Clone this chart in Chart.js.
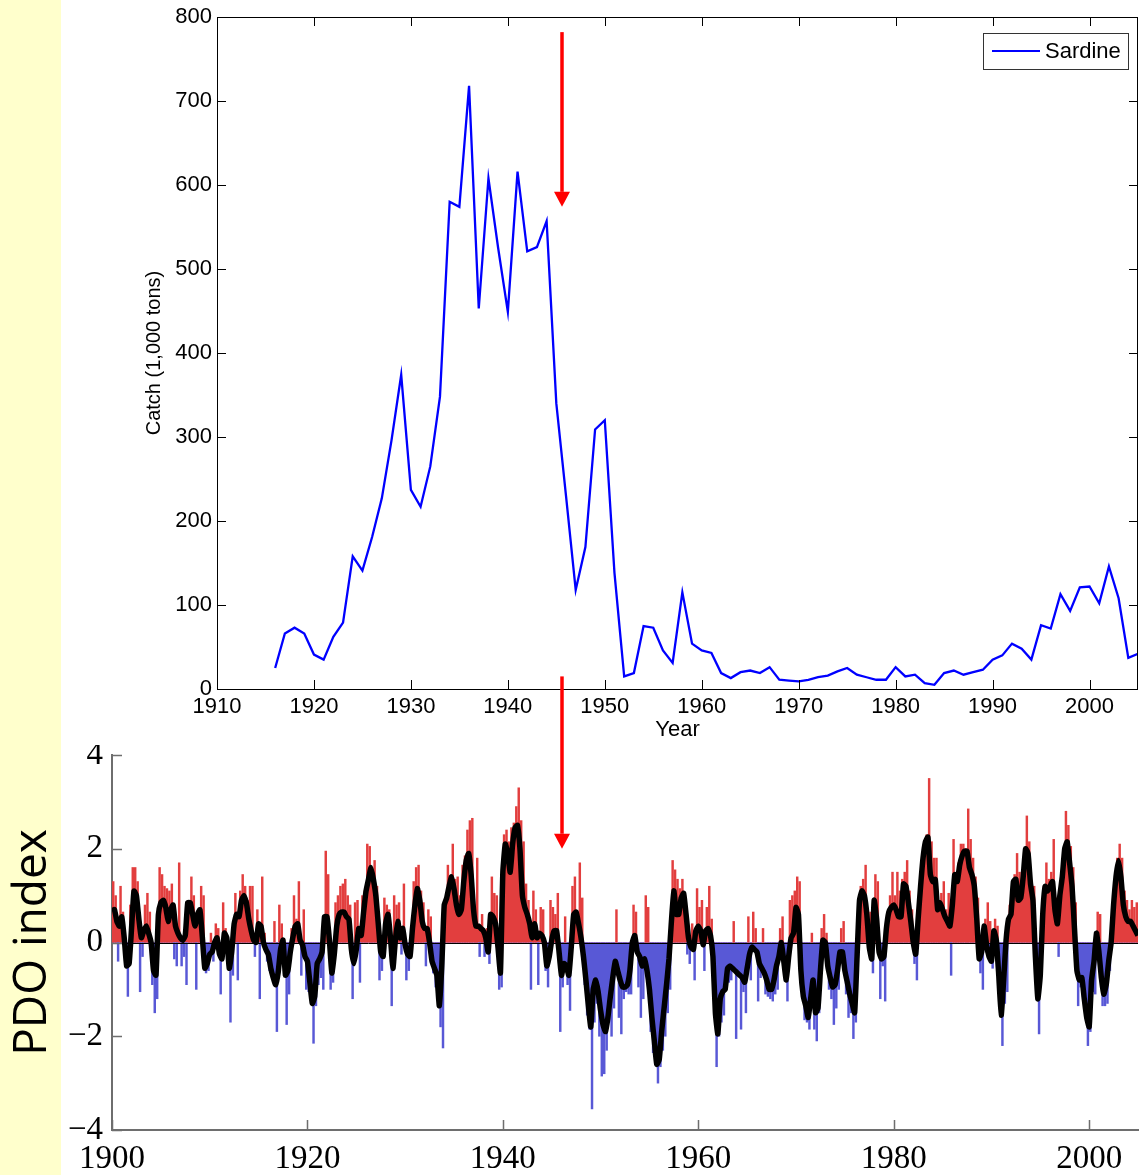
<!DOCTYPE html>
<html>
<head>
<meta charset="utf-8">
<script src="https://cdn.jsdelivr.net/npm/chart.js@4.4.1/dist/chart.umd.min.js"></script>
<style>
  html, body { margin: 0; padding: 0; }
  body {
    width: 1140px; height: 1175px; position: relative; overflow: hidden;
    background: linear-gradient(to right, #ffffcc 0, #ffffcc 61px, #ffffff 61px);
  }
  canvas { position: absolute; left: 0; }
  #catchChart { top: 0; }
  #pdoChart { top: 745px; }
</style>
</head>
<body>
<canvas id="catchChart" width="1140" height="745"></canvas>
<canvas id="pdoChart" width="1140" height="430"></canvas>
<script>
// Sardine catch (1,000 tons), one value per year
const sardineYears = [
  1916, 1917, 1918, 1919, 1920, 1921, 1922, 1923, 1924, 1925,
  1926, 1927, 1928, 1929, 1930, 1931, 1932, 1933, 1934, 1935,
  1936, 1937, 1938, 1939, 1940, 1941, 1942, 1943, 1944, 1945,
  1946, 1947, 1948, 1949, 1950, 1951, 1952, 1953, 1954, 1955,
  1956, 1957, 1958, 1959, 1960, 1961, 1962, 1963, 1964, 1965,
  1966, 1967, 1968, 1969, 1970, 1971, 1972, 1973, 1974, 1975,
  1976, 1977, 1978, 1979, 1980, 1981, 1982, 1983, 1984, 1985,
  1986, 1987, 1988, 1989, 1990, 1991, 1992, 1993, 1994, 1995,
  1996, 1997, 1998, 1999, 2000, 2001, 2002, 2003, 2004, 2005
];
const sardineCatch = [
   25,  66,  73,  66,  41,  35,  62,  79, 158, 141,
  181, 227, 296, 374, 237, 217, 265, 348, 580, 574,
  718, 453, 608, 525, 449, 616, 521, 526, 557, 340,
  230, 118, 169, 309, 320, 138,  15,  19,  75,  73,
   46,  31, 115,  54,  46,  43,  19,  13,  20,  22,
   19,  26,  11,  10,   9,  11,  14,  16,  21,  25,
   17,  14,  11,  11,  26,  15,  17,   7,   5,  19,
   22,  17,  20,  23,  35,  40,  54,  48,  35,  76,
   72, 113,  93, 121, 122, 102, 146, 108,  37,  42
];
const catchYearTicks = [1910, 1920, 1930, 1940, 1950, 1960, 1970, 1980, 1990, 2000];
const catchValueTicks = [0, 100, 200, 300, 400, 500, 600, 700, 800];

// PDO index, read every quarter year starting at 1900.0
const pdoStart = 1900;
const pdoStep = 0.25;
// smoothed index (black line)
const pdoSmooth = [
  0.67, 0.70, 0.45, 0.35,   0.55, 0.10, -0.50, -0.45,   0.30, 1.10, 1.00, 0.50,
  0.10, 0.25, 0.35, 0.20,   0.00, -0.60, -0.70, 0.60,   0.85, 0.90, 0.75, 0.45,
  0.70, 0.80, 0.35, 0.20,   0.10, 0.05, 0.15, 0.85,   0.85, 0.60, 0.35, 0.60,
  0.70, 0.10, -0.55, -0.45, // 1909
  -0.25, -0.20, 0.00, 0.10,   -0.25, -0.35, 0.20, 0.10,   -0.55, -0.20, 0.40, 0.60,
  0.55, 0.90, 1.00, 0.85,   0.50, 0.25, 0.05, 0.00,   0.40, 0.35, 0.00, -0.15,
  -0.25, -0.55, -0.75, -0.90,   -0.65, -0.15, 0.05, -0.70,   -0.60, -0.20, 0.10, 0.35,
  0.40, 0.05, -0.05, -0.30, // 1919
  -0.40, -0.85, -1.30, -1.15,   -0.45, -0.35, -0.20, 0.55,   0.55, 0.05, -0.65, -0.25,
  0.35, 0.60, 0.65, 0.65,   0.55, 0.50, -0.15, -0.45,   -0.15, 0.30, 0.15, 0.65,
  1.10, 1.35, 1.60, 1.35,   1.00, 0.40, -0.20, -0.30,   0.40, 0.60, 0.10, -0.55,
  0.05, 0.45, 0.10, 0.30, // 1929
  -0.05, -0.25, -0.30, 0.30,   0.80, 1.15, 0.90, 0.45,   0.30, 0.30, 0.00, -0.40,
  -0.55, -0.70, -1.35, -0.50,   0.80, 0.95, 1.20, 1.40,   1.15, 0.80, 0.60, 0.70,
  1.30, 1.75, 1.90, 1.45,   0.70, 0.35, 0.35, 0.30,   0.25, 0.10, -0.20, 0.60,
  0.55, 0.40, -0.10, -0.65, // 1939
  1.50, 2.10, 1.90, 1.50,   2.10, 2.45, 2.50, 2.00,   1.00, 0.75, 0.60, 0.40,
  0.10, 0.40, 0.10, 0.20,   0.15, 0.00, -0.50, -0.30,   0.05, 0.25, 0.25, -0.20,
  -0.70, -0.45, -0.50, -0.70,   -0.10, 0.60, 0.65, 0.40,   0.10, -0.30, -0.80, -1.35,
  -1.80, -1.00, -0.80, -1.05, // 1949
  -1.45, -1.75, -1.90, -1.60,   -1.15, -0.75, -0.40, -0.60,   -0.80, -0.95, -0.95, -0.90,
  -0.60, 0.00, 0.15, -0.20,   -0.30, -0.50, -0.35, -0.60,   -1.00, -1.60, -2.10, -2.60,
  -2.50, -1.90, -1.40, -0.90,   -0.35, 0.45, 1.10, 0.60,   0.60, 0.95, 1.05, 0.60,
  0.10, -0.10, -0.15, 0.25, // 1959
  0.35, 0.25, -0.05, 0.25,   0.30, 0.15, -0.30, -1.50,   -1.95, -1.20, -1.05, -1.00,
  -0.55, -0.50, -0.55, -0.60,   -0.65, -0.70, -0.75, -0.85,   -0.55, -0.25, -0.10, -0.15,
  -0.20, -0.45, -0.55, -0.65,   -0.80, -1.00, -1.00, -0.80,   -0.50, -0.30, 0.00, -0.40,
  -0.80, -0.30, 0.10, 0.20, // 1969
  0.75, 0.60, -0.60, -1.15,   -1.35, -1.60, -1.20, -0.80,   -1.50, -1.40, -0.60, 0.05,
  0.00, -0.50, -0.75, -0.95,   -0.90, -0.60, -0.20, -0.20,   -0.60, -0.85, -1.10, -1.30,
  -1.50, -0.30, 0.90, 1.10,   1.00, 0.60, -0.10, -0.35,   0.90, 0.50, -0.20, -0.35,
  -0.30, 0.30, 0.65, 0.75, // 1979
  0.80, 0.70, 0.55, 0.55,   1.25, 1.20, 0.85, 0.45,   0.00, -0.25, 0.50, 1.20,
  1.80, 2.15, 2.25, 1.45,   1.30, 1.35, 0.70, 0.85,   0.70, 0.55, 0.45, 0.35,
  0.80, 1.45, 1.30, 1.65,   1.85, 1.95, 1.95, 1.60,   1.45, 1.20, 0.50, -0.35,
  -0.20, 0.35, -0.05, -0.30, // 1989
  -0.40, 0.25, 0.05, -0.70,   -1.55, -0.80, 0.05, 0.50,   0.60, 1.30, 1.35, 0.90,
  0.95, 1.40, 2.00, 1.90,   1.25, 0.90, -0.30, -1.20,   -0.70, 0.60, 1.20, 1.10,
  1.20, 1.30, 0.70, 0.40,   1.00, 1.40, 2.00, 2.15,   1.70, 1.20, 0.30, -0.60,
  -0.80, -0.75, -1.20, -1.60, // 1999
  -1.80, -0.80, -0.40, 0.20,   -0.20, -0.75, -1.10, -0.90,   -0.40, 0.00, 0.80, 1.40,
  1.75, 1.40, 0.80, 0.55,   0.45, 0.45, 0.35, 0.25,
  0.15 // 2005.0
];
// strongest monthly value in each quarter (thin red / blue spikes)
const pdoMonthlyPeaks = [
  1.30, 1.00, -0.40, 1.20,   0.65, -0.50, -1.15, 0.80,   1.60, 1.60, 1.30, -1.05,
  -0.30, 0.80, 1.05, 0.65,   -0.90, -1.50, -1.20, 1.60,   1.45, 1.20, 1.15, 1.10,
  1.25, -0.35, -0.50, 1.70,   -0.50, -0.30, -0.90, 0.70,   1.40, 1.00, -1.00, 0.50,
  1.20, 1.00, -0.65, -0.60, // 1909
  0.20, -0.40, 0.40, 0.30,   -1.10, 0.85, 0.30, -0.50,   -1.70, -0.70, 1.05, -0.80,
  1.10, 1.45, 1.20, 0.90,   1.20, 1.20, -0.30, 0.70,   -1.20, 1.40, 0.20, -0.40,
  -0.60, -0.65, 0.45, -1.90,   0.80, 0.40, -0.65, -1.75,   -1.10, 0.30, 1.00, 0.50,
  1.30, -0.70, 0.70, -1.00, // 1919
  -1.05, -1.00, -2.15, -1.35,   -0.90, -0.75, -1.00, 1.95,   1.45, -1.00, -0.85, 0.85,
  1.00, 1.20, 1.25, 1.35,   1.00, 0.80, -1.20, 0.85,   0.90, -0.85, 1.00, 1.10,
  2.10, 2.05, 1.30, 1.75,   1.20, -0.80, -0.60, 0.95,   0.80, 0.70, -1.35, 1.00,
  0.80, 0.85, -0.25, 1.25, // 1929
  -0.80, -0.60, 0.35, 1.30,   1.60, 1.65, 1.10, 0.85,   -0.50, 0.70, 0.55, -0.65,
  -0.95, -1.00, -1.80, -2.25,   0.85, 1.65, 1.40, 2.10,   1.35, 1.40, 1.00, 1.65,
  1.85, 2.40, 2.60, 2.65,   0.75, 1.80, -0.30, 0.60,   -0.30, 0.30, -0.45, 1.40,
  1.05, 1.00, -1.00, -0.95, // 1939
  2.30, 2.40, 2.15, 2.45,   2.55, 2.90, 3.30, 2.60,   2.15, 1.25, 0.90, -1.00,
  1.10, 0.70, -0.90, 0.75,   0.70, -0.60, -0.95, 0.90,   0.75, 0.60, 1.05, -1.90,
  -0.95, 0.55, -0.90, -1.45,   1.20, 1.40, 0.60, 1.70,   0.95, -0.90, -1.55, -1.85,
  -3.55, -1.70, -1.30, -2.00, // 1949
  -2.85, -2.80, -2.30, -1.70,   -2.00, -1.40, 0.70, -1.60,   -1.95, -1.20, -1.05, -1.10,
  -1.10, 0.80, 0.65, -0.95,   -1.60, -1.20, 1.00, 0.75,   -1.90, -2.35, -2.20, -3.00,
  -2.65, -2.30, -2.00, -1.50,   -1.00, 1.75, 1.55, 1.35,   1.15, 1.35, 1.00, -0.25,
  -0.45, 0.40, -0.80, 1.15, // 1959
  0.75, 0.90, -0.60, 0.75,   1.20, 0.50, -1.20, -2.65,   -2.00, -1.70, -1.55, -1.00,
  -0.85, -0.80, 0.45, -2.05,   -0.40, -1.85, -1.05, -1.50,   0.55, -0.80, 0.65, 0.30,
  -1.25, -0.75, 0.30, -1.10,   -1.15, -1.20, -1.25, -1.10,   -1.00, 0.30, 0.55, -0.65,
  -1.25, 0.90, 1.00, 1.10, // 1969
  1.40, 1.30, -0.90, -1.65,   -1.70, -1.85, 0.20, -1.85,   -2.10, -1.50, 0.30, 0.60,
  0.20, -1.00, -1.20, -1.75,   -1.40, -1.00, 0.30, 0.45,   -1.10, -1.60, -1.50, -2.05,
  -1.70, 0.45, 1.20, 1.35,   1.65, 0.50, 0.65, -0.65,   1.45, 1.30, -1.20, -0.50,
  -1.25, 0.60, 1.00, 1.50, // 1979
  1.00, 1.50, 1.10, 1.35,   1.50, 1.75, 1.10, 0.70,   -0.45, -0.80, 0.80, 1.05,
  1.90, 2.30, 3.50, 2.15,   1.80, 1.80, 0.45, 1.05,   1.30, 0.70, 1.05, -0.70,
  2.20, 1.30, 1.70, 2.10,   2.10, 2.00, 2.85, 2.20,   1.80, 1.40, 0.95, -0.65,
  -1.00, 0.50, 0.85, 0.45, // 1989
  -0.55, 0.50, 0.35, -1.00,   -2.20, -1.30, -1.05, 0.80,   0.90, 1.45, 1.90, 1.50,
  1.10, 1.05, 2.70, 2.15,   1.30, 1.20, -0.60, -1.95,   -0.40, 1.20, 1.70, 1.35,
  1.50, 2.20, 0.95, -0.30,   1.30, 1.80, 2.80, 2.50,   2.05, 1.60, 0.85, -1.35,
  -0.95, -1.15, -1.30, -2.20, // 1999
  -1.90, -1.05, -1.10, 0.65,   0.60, -1.35, -1.35, -1.30,   -0.60, 0.45, 0.90, 1.80,
  2.10, 1.80, 1.10, 0.90,   0.70, 0.90, 0.75, 0.85
];
const pdoYearTicks = [1900, 1920, 1940, 1960, 1980, 2000];
const pdoValueTicks = [-4, -2, 0, 2, 4];

const RED = 'rgb(226,62,62)';
const BLUE = 'rgb(88,88,214)';
const SANS = '"Liberation Sans", Arial, sans-serif';
const SERIF = '"Liberation Serif", "Times New Roman", serif';

// fixed axis box sizes, without the extra room Chart.js keeps for edge labels
function fixWidth(w) {
  return s => { s.width = w; s.paddingTop = 0; s.paddingBottom = 0; };
}
function fixHeight(h) {
  return s => { s.height = h; s.paddingLeft = 0; s.paddingRight = 0; };
}

// ticks drawn inside the plot box, optional full frame and zero line
const inwardTicks = {
  id: 'inwardTicks',
  afterDatasetsDraw(chart, args, o) {
    const {ctx, chartArea: a, scales: {x, y}} = chart;
    ctx.save();
    if (o.zeroLine) {
      const pz = Math.round(y.getPixelForValue(0)) + 0.5;
      ctx.strokeStyle = '#000';
      ctx.lineWidth = 1;
      ctx.beginPath();
      ctx.moveTo(a.left, pz);
      ctx.lineTo(a.right, pz);
      ctx.stroke();
    }
    ctx.strokeStyle = o.color;
    ctx.lineWidth = o.width;
    ctx.beginPath();
    x.ticks.forEach(t => {
      const px = Math.round(x.getPixelForValue(t.value)) + 0.5;
      ctx.moveTo(px, a.bottom);
      ctx.lineTo(px, a.bottom - o.len);
      if (o.box) {
        ctx.moveTo(px, a.top);
        ctx.lineTo(px, a.top + o.len);
      }
    });
    y.ticks.forEach(t => {
      const py = Math.round(y.getPixelForValue(t.value)) + 0.5;
      ctx.moveTo(a.left, py);
      ctx.lineTo(a.left + o.len, py);
      if (o.box) {
        ctx.moveTo(a.right, py);
        ctx.lineTo(a.right - o.len, py);
      }
    });
    ctx.stroke();
    if (o.box) {
      ctx.strokeRect(a.left + 0.5, a.top + 0.5, a.right - a.left - 1, a.bottom - a.top);
    }
    ctx.restore();
  }
};

// red arrows marking the regime shift
const arrows = {
  id: 'arrows',
  afterDraw(chart, args, o) {
    const {ctx, scales: {x, y}} = chart;
    ctx.save();
    ctx.strokeStyle = o.color;
    ctx.fillStyle = o.color;
    ctx.lineWidth = o.width;
    (o.items || []).forEach(a => {
      const px = Math.round(x.getPixelForValue(a.year));
      const y0 = a.from == null ? 0 : y.getPixelForValue(a.from);
      const tip = a.to == null ? chart.height : y.getPixelForValue(a.to);
      const end = a.head ? tip - o.headLen : tip;
      ctx.beginPath();
      ctx.moveTo(px, y0);
      ctx.lineTo(px, end);
      ctx.stroke();
      if (a.head) {
        ctx.beginPath();
        ctx.moveTo(px - o.headWidth / 2, end);
        ctx.lineTo(px + o.headWidth / 2, end);
        ctx.lineTo(px, tip);
        ctx.closePath();
        ctx.fill();
      }
    });
    ctx.restore();
  }
};

// boxed legend in the top right corner of the plot
const boxLegend = {
  id: 'boxLegend',
  afterDraw(chart, args, o) {
    if (!o.display) return;
    const {ctx, chartArea: a} = chart;
    const ds = chart.data.datasets[0];
    const bx = a.right - o.right - o.width;
    const by = a.top + o.top;
    ctx.save();
    ctx.fillStyle = '#fff';
    ctx.fillRect(bx, by, o.width, o.height);
    ctx.strokeStyle = '#333';
    ctx.lineWidth = 1;
    ctx.strokeRect(bx + 0.5, by + 0.5, o.width, o.height);
    const my = by + o.height / 2;
    ctx.strokeStyle = ds.borderColor;
    ctx.lineWidth = 2;
    ctx.beginPath();
    ctx.moveTo(bx + 9, my);
    ctx.lineTo(bx + 57, my);
    ctx.stroke();
    ctx.fillStyle = '#000';
    ctx.font = '22px ' + SANS;
    ctx.textBaseline = 'middle';
    ctx.fillText(ds.label, bx + 62, my + 1);
    ctx.restore();
  }
};

Chart.register(inwardTicks, arrows, boxLegend);

new Chart(document.getElementById('catchChart'), {
  type: 'line',
  data: {
    datasets: [{
      label: 'Sardine',
      data: sardineYears.map((yr, i) => ({x: yr, y: sardineCatch[i]})),
      borderColor: '#0000ff',
      borderWidth: 2.3,
      pointRadius: 0,
      tension: 0,
      fill: false
    }]
  },
  options: {
    responsive: false,
    animation: false,
    layout: {padding: {top: 17, right: 2, left: 0, bottom: 0}},
    plugins: {
      legend: {display: false},
      tooltip: {enabled: false},
      inwardTicks: {color: '#000', width: 1, len: 9, box: true},
      arrows: {
        color: '#ff0000', width: 3.5, headLen: 15, headWidth: 16,
        items: [
          {year: 1945.6, from: 782, to: 574, head: true},
          {year: 1945.6, from: 15}
        ]
      },
      boxLegend: {display: true, right: 10, top: 16, width: 145, height: 36}
    },
    scales: {
      x: {
        type: 'linear', min: 1910, max: 2005, offset: false,
        grid: {display: false, drawTicks: false},
        border: {display: false},
        ticks: {
          font: {family: SANS, size: 22}, color: '#000', padding: 5, maxRotation: 0, autoSkip: false,
          callback: v => String(v)
        },
        title: {display: true, text: 'Year', font: {family: SANS, size: 22}, color: '#000', padding: {top: 0, bottom: 2}},
        afterBuildTicks: s => { s.ticks = catchYearTicks.map(v => ({value: v})); },
        afterFit: fixHeight(56)
      },
      y: {
        type: 'linear', min: 0, max: 800,
        grid: {display: false, drawTicks: false},
        border: {display: false},
        ticks: {font: {family: SANS, size: 22}, color: '#000', padding: 5, callback: v => String(v)},
        title: {display: true, text: 'Catch (1,000 tons)', font: {family: SANS, size: 20}, color: '#000', padding: {top: 142, bottom: 0}},
        afterBuildTicks: s => { s.ticks = catchValueTicks.map(v => ({value: v})); },
        afterFit: fixWidth(217)
      }
    }
  }
});

new Chart(document.getElementById('pdoChart'), {
  type: 'line',
  data: {
    datasets: [
      {
        type: 'bar',
        label: 'Monthly',
        data: pdoMonthlyPeaks.map((v, i) => ({x: pdoStart + pdoStep / 2 + i * pdoStep, y: v})),
        backgroundColor: c => (c.raw && c.raw.y < 0 ? BLUE : RED),
        barThickness: 1.8,
        order: 2
      },
      {
        type: 'line',
        label: 'Smoothed',
        data: pdoSmooth.map((v, i) => ({x: pdoStart + i * pdoStep, y: v})),
        borderColor: '#000',
        borderWidth: 5.5,
        borderJoinStyle: 'round',
        pointRadius: 0,
        tension: 0.15,
        fill: {target: 'origin', above: RED, below: BLUE},
        order: 1
      }
    ]
  },
  options: {
    responsive: false,
    animation: false,
    layout: {padding: {top: 10, right: 2, left: 0, bottom: 0}},
    plugins: {
      legend: {display: false},
      tooltip: {enabled: false},
      inwardTicks: {color: '#6e6e6e', width: 1.5, len: 10, box: false, zeroLine: true},
      arrows: {
        color: '#ff0000', width: 3.5, headLen: 15, headWidth: 16,
        items: [{year: 1946.05, to: 2.0, head: true}]
      },
      boxLegend: {display: false}
    },
    scales: {
      x: {
        type: 'linear', min: 1900, max: 2005, offset: false,
        grid: {display: false, drawTicks: false},
        border: {display: true, color: '#6e6e6e', width: 2},
        ticks: {
          font: {family: SERIF, size: 33}, color: '#000', padding: 10, maxRotation: 0, autoSkip: false,
          callback: v => String(v)
        },
        afterBuildTicks: s => { s.ticks = pdoYearTicks.map(v => ({value: v})); },
        afterFit: fixHeight(45)
      },
      y: {
        type: 'linear', min: -4, max: 4,
        grid: {display: false, drawTicks: false},
        border: {display: true, color: '#6e6e6e', width: 2},
        ticks: {
          font: {family: SERIF, size: 33}, color: '#000', padding: 9,
          callback: v => (v < 0 ? '\u2212' + Math.abs(v) : String(v))
        },
        title: {display: true, text: 'PDO index', font: {family: '"Open Sans", "Noto Sans", sans-serif', size: 46}, color: '#000', padding: {top: 5, bottom: 0}},
        afterBuildTicks: s => { s.ticks = pdoValueTicks.map(v => ({value: v})); },
        afterFit: fixWidth(112)
      }
    }
  }
});
</script>
</body>
</html>
